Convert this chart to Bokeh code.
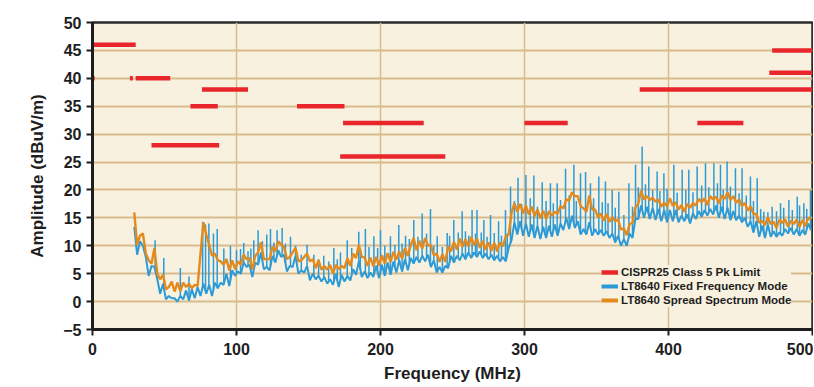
import numpy as np
from bokeh.plotting import figure
from bokeh.models import Range1d, FixedTicker, Legend, LegendItem, ColumnDataSource
from bokeh.embed import file_html
from bokeh.resources import INLINE

# ---------------- data ----------------
x_ticks = [0, 100, 200, 300, 400, 500]
y_ticks = [-5, 0, 5, 10, 15, 20, 25, 30, 35, 40, 45, 50]

# CISPR25 Class 5 peak limit segments (MHz start, MHz end, dBuV/m)
limit_start = [0, 0, 26, 30, 76, 68, 41, 142, 174, 172, 300, 380, 420, 470, 472]
limit_end = [30, 1.5, 28, 54, 108, 87, 88, 175, 230, 245, 330, 500, 452, 500, 500]
limit_level = [46, 40, 40, 40, 38, 35, 28, 35, 32, 26, 32, 38, 32, 41, 45]

# spectra sampled every 2 MHz starting at 29 MHz
freq_start = 29
freq_step = 2
spread_amp = [
    16.0, 10.2, 11.8, 12.2, 8.6, 7.4, 6.8, 9.6, 5.0, 4.0,
    4.8, 2.2, 2.6, 3.6, 1.8, 3.4, 1.9, 3.4, 2.6, 3.2,
    2.4, 3.0, 2.8, 8.5, 14.2, 12.0, 10.2, 8.2, 8.6, 7.4,
    7.2, 6.6, 7.6, 5.6, 7.4, 5.8, 7.2, 6.6, 8.4, 7.6,
    7.8, 5.8, 8.2, 8.8, 10.6, 7.6, 7.6, 7.6, 9.8, 9.0,
    10.8, 10.2, 9.8, 7.6, 8.0, 8.8, 9.6, 7.2, 7.4, 8.0,
    8.6, 7.2, 7.6, 6.0, 7.4, 5.7, 6.4, 5.7, 6.6, 5.0,
    6.6, 5.8, 6.4, 6.0, 7.8, 6.4, 8.6, 7.8, 10.2, 8.0,
    7.9, 6.4, 7.9, 6.3, 8.0, 6.5, 8.3, 6.8, 8.7, 7.1,
    8.9, 7.5, 9.0, 7.7, 9.6, 8.2, 10.1, 11.4, 9.2, 10.9,
    9.5, 11.4, 10.0, 10.1, 8.3, 8.6, 7.1, 8.5, 7.1, 9.9,
    9.0, 10.7, 9.3, 11.3, 9.8, 11.2, 9.9, 11.6, 10.1, 11.3,
    9.6, 10.9, 9.3, 10.6, 9.1, 10.5, 9.0, 10.6, 9.9, 11.7,
    12.0, 15.9, 17.6, 16.1, 17.5, 15.8, 17.2, 15.6, 17.0, 15.3,
    16.5, 14.9, 16.3, 14.8, 16.2, 15.4, 16.1, 15.7, 17.1, 16.7,
    18.3, 18.1, 19.6, 18.9, 18.9, 17.1, 16.7, 16.1, 19.0, 16.5,
    16.5, 15.1, 15.8, 14.5, 15.7, 14.3, 15.1, 14.4, 14.7, 12.9,
    13.1, 11.9, 13.9, 14.1, 16.9, 17.5, 19.9, 18.3, 18.9, 18.2,
    18.6, 17.9, 18.3, 17.0, 17.7, 17.1, 18.5, 17.1, 17.8, 16.5,
    17.3, 16.1, 17.5, 16.8, 17.7, 17.2, 18.4, 17.8, 18.5, 17.3,
    18.9, 18.3, 18.8, 17.6, 19.0, 18.4, 19.6, 18.2, 18.9, 17.7,
    18.3, 17.1, 17.7, 16.3, 17.1, 15.7, 15.7, 14.1, 14.5, 13.7,
    15.1, 13.9, 14.3, 13.2, 14.7, 14.1, 14.7, 13.4, 14.5, 13.9,
    14.7, 13.4, 14.6, 13.5, 15.0, 14.8,
]
fixed_amp = [
    13.4, 8.4, 10.8, 10.0, 8.0, 4.6, 6.4, 6.2, 4.0, 1.4,
    3.2, 0.4, 1.0, 0.6, 0.6, 0.0, 1.0, 0.4, 2.0, 0.2,
    2.2, 0.6, 2.6, 1.0, 3.2, 1.4, 3.0, 1.0, 3.4, 2.4,
    3.4, 3.0, 5.0, 2.8, 5.6, 4.6, 5.4, 5.0, 7.0, 6.2,
    6.6, 4.4, 7.0, 6.6, 8.8, 5.8, 6.2, 5.6, 8.2, 7.0,
    9.2, 8.0, 8.4, 5.4, 6.4, 6.2, 8.2, 5.0, 5.6, 5.2,
    6.4, 3.8, 5.0, 4.0, 4.6, 3.6, 4.4, 3.2, 4.0, 3.0,
    5.0, 2.6, 4.8, 3.6, 4.6, 3.8, 5.8, 4.8, 7.2, 4.4,
    5.4, 4.2, 5.2, 4.4, 6.4, 4.2, 6.6, 4.6, 7.0, 4.8,
    7.2, 5.2, 7.4, 5.4, 7.6, 5.6, 7.8, 6.8, 8.0, 7.0,
    8.2, 7.2, 8.4, 6.2, 7.4, 5.2, 6.2, 5.2, 6.4, 6.0,
    8.2, 7.0, 8.2, 7.4, 8.6, 7.6, 8.8, 7.8, 8.8, 8.0,
    9.0, 7.8, 8.6, 7.6, 8.4, 7.4, 8.2, 7.2, 8.0, 7.2,
    9.6, 11.0, 14.2, 12.0, 14.4, 11.8, 14.0, 11.6, 13.8, 11.4,
    13.6, 11.2, 13.4, 11.4, 13.6, 11.6, 13.8, 11.8, 14.0, 12.8,
    15.0, 13.0, 15.4, 13.2, 14.4, 12.0, 13.0, 12.0, 14.2, 11.8,
    13.0, 12.0, 12.8, 11.8, 12.6, 11.4, 12.2, 10.6, 11.8, 10.0,
    11.2, 10.0, 12.2, 11.4, 14.8, 14.8, 17.2, 15.0, 17.0, 14.8,
    16.8, 14.6, 16.6, 14.4, 16.4, 14.2, 16.4, 14.4, 16.4, 14.2,
    15.4, 14.4, 15.6, 14.0, 15.8, 14.8, 16.2, 15.2, 16.4, 15.4,
    16.6, 15.6, 17.2, 15.0, 17.0, 14.8, 16.8, 14.6, 16.2, 14.6,
    15.4, 14.2, 15.0, 13.4, 14.4, 12.4, 14.4, 11.6, 13.6, 11.4,
    13.8, 11.6, 12.6, 11.6, 12.4, 11.8, 13.0, 12.2, 13.2, 12.0,
    13.0, 11.8, 12.8, 12.0, 14.0, 12.8,
]
# narrow emission peaks of the fixed-frequency spectrum (tall ones)
spike_freq = [43.5, 49.5, 61, 67, 76.5, 78.5, 80.8, 84, 86.6, 91.2, 95.8, 100, 102.8, 108,
              112, 115, 118, 121, 123.6, 128.2, 131.7, 137.5, 141, 149, 153.7, 160.6, 167.6,
              172.2, 176.9, 180, 184.9, 189.5, 195.4, 200, 206.9, 212.7, 217.4, 223.1, 228.9,
              234.7, 239.4, 246.3, 250.9, 256.7, 261.3, 263.6, 267, 271.8, 276.4, 282, 286.8,
              290.3, 295.5, 301, 306.5, 312.3, 318, 322.7, 328.5, 334.3, 338.9, 342.4, 345.8,
              351.6, 356.2, 360.9, 365.5, 372.5, 377.1, 381.7, 386.3, 392.1, 396.8, 403.7,
              409.5, 414.1, 419.9, 425.7, 431.5, 436.1, 440.7, 446.5, 451.1, 456.9, 461.6,
              466.2, 472, 477.8, 483.6, 489.4, 494, 498.6]
spike_amp = [11.0, 7.8, 6.0, 4.5, 14.3, 13.8, 14.0, 12.2, 13.0, 9.5, 10.0, 9.2, 9.4, 9.0,
             11.0, 12.8, 10.8, 12.0, 13.0, 12.8, 13.2, 11.6, 10.0, 10.2, 8.4, 8.2, 9.6,
             8.8, 11.0, 9.6, 12.5, 13.0, 11.7, 12.8, 11.7, 13.7, 11.8, 14.6, 15.8,
             16.6, 11.7, 12.3, 14.6, 16.2, 11.8, 16.4, 16.4, 14.6, 15.5, 14.4, 16.4,
             20.6, 22.2, 22.7, 22.6, 21.4, 21.2, 21.2, 23.8, 24.5, 23.0, 23.2, 21.2,
             22.4, 21.5, 20.0, 19.7, 21.2, 24.5, 27.8, 24.2, 23.3, 23.0, 24.5,
             23.6, 23.6, 24.2, 24.8, 24.8, 24.5, 25.1, 23.9, 23.9, 22.4, 22.1,
             16.1, 17.0, 17.6, 18.2, 18.8, 17.6, 20.0]
# shorter peaks inside the fixed-frequency noise band
minor_spike_freq = [105, 110, 126, 134, 145, 157, 164, 170, 186, 192, 198, 203, 210, 215,
                    220, 226, 232, 237, 243, 248, 254, 259, 266, 270, 274, 279, 284, 288,
                    293, 298, 304, 309, 315, 320, 325, 331, 336, 348, 354, 358, 363, 369,
                    375, 379, 384, 389, 394, 399, 406, 412, 417, 423, 428, 434, 438, 443,
                    449, 454, 459, 464, 469, 475, 480, 486, 491, 496]
minor_spike_amp = [10.5, 9.5, 10.6, 10.4, 8.4, 7.6, 7.2, 7.6, 9.5, 9.8, 9.6, 10.0, 10.2, 10.4,
                   11.2, 11.6, 12.2, 10.0, 9.8, 11.8, 12.4, 12.6, 12.2, 12.4, 11.6, 12.3, 11.8,
                   12.2, 18.0, 17.5, 18.5, 17.0, 18.0, 17.6, 18.2, 19.0, 18.0, 18.5, 17.8, 17.6,
                   16.8, 15.5, 17.0, 20.5, 21.0, 20.0, 19.8, 20.2, 19.5, 20.0, 19.6, 20.8, 20.5,
                   21.2, 20.0, 20.6, 19.4, 19.0, 18.0, 16.6, 16.0, 16.2, 16.8, 16.4, 17.2, 16.6]

legend_labels = ["CISPR25 Class 5 Pk Limit", "LT8640 Fixed Frequency Mode",
                 "LT8640 Spread Spectrum Mode"]

# ---------------- styling ----------------
CREAM = "#F8F1E0"
TAN = "#D9BC8E"
RED = "#E8262B"
BLUE = "#2C9AD6"
ORANGE = "#E38A1F"
INK = "#1E1E1E"
FONT = "Liberation Sans"

spread_freq = freq_start + freq_step * np.arange(len(spread_amp))
fixed_freq = freq_start + freq_step * np.arange(len(fixed_amp))
fixed_arr = np.array(fixed_amp, dtype=float)
spike_f = np.array(spike_freq + minor_spike_freq, dtype=float)
spike_top = np.array(spike_amp + minor_spike_amp, dtype=float)
spike_base = np.interp(spike_f, fixed_freq, fixed_arr)

p = figure(width=813, height=386, output_backend="svg", toolbar_location=None,
           x_range=Range1d(0, 500), y_range=Range1d(-5, 50),
           min_border_left=92, min_border_right=1, min_border_top=22, min_border_bottom=57,
           background_fill_color=CREAM, border_fill_color="white")

p.outline_line_color = "#2A2A2A"
p.outline_line_width = 2.5

for ax, ticks in ((p.xaxis, x_ticks), (p.yaxis, y_ticks)):
    ax.ticker = FixedTicker(ticks=ticks)
    ax.axis_line_width = 3
    ax.axis_line_color = INK
    ax.major_tick_line_width = 2
    ax.major_tick_line_color = INK
    ax.major_tick_out = 6
    ax.major_tick_in = 0
    ax.minor_tick_line_color = None
    ax.major_label_text_font = FONT
    ax.major_label_text_font_style = "bold"
    ax.major_label_text_font_size = "16px"
    ax.major_label_text_color = INK
    ax.axis_label_text_font = FONT
    ax.axis_label_text_font_style = "bold"
    ax.axis_label_text_font_size = "17px"
    ax.axis_label_text_color = INK

p.xaxis.axis_label = "Frequency (MHz)"
p.yaxis.axis_label = "Amplitude (dBuV/m)"
p.xaxis.major_label_standoff = 7
p.xaxis.axis_label_standoff = 6
p.yaxis.major_label_standoff = 5
p.yaxis.axis_label_standoff = 13

p.xgrid.grid_line_color = TAN
p.xgrid.grid_line_width = 1.5
p.ygrid.grid_line_color = TAN
p.ygrid.grid_line_width = 2

lim_src = ColumnDataSource(dict(x0=limit_start, x1=limit_end, y=limit_level))
r_lim = p.segment(x0="x0", y0="y", x1="x1", y1="y", source=lim_src, line_color=RED,
                  line_width=4.5, line_cap="butt")
p.segment(x0=spike_f, y0=spike_base, x1=spike_f, y1=spike_top, line_color=BLUE,
          line_width=1.5)
p.line(fixed_freq, fixed_amp, line_color=BLUE, line_width=2.0)
p.line(spread_freq, spread_amp, line_color=ORANGE, line_width=2.4)

# legend swatches: one-point lines (draw nothing in the plot)
leg_b = p.line(fixed_freq[:1], fixed_amp[:1], line_color=BLUE, line_width=4)
leg_o = p.line(spread_freq[:1], spread_amp[:1], line_color=ORANGE, line_width=4)
legend = Legend(items=[LegendItem(label=legend_labels[0], renderers=[r_lim]),
                       LegendItem(label=legend_labels[1], renderers=[leg_b]),
                       LegendItem(label=legend_labels[2], renderers=[leg_o])],
                location=(509, 22), orientation="vertical",
                background_fill_color=CREAM, background_fill_alpha=1.0,
                border_line_color=None, padding=2, spacing=0, margin=0,
                label_height=14, glyph_height=14, glyph_width=17, label_standoff=3,
                label_text_font=FONT,
                label_text_font_style="bold", label_text_font_size="11.5px",
                label_text_color=INK, label_text_baseline="middle")
p.add_layout(legend)

open("out.html", "w").write(file_html(p, INLINE))
